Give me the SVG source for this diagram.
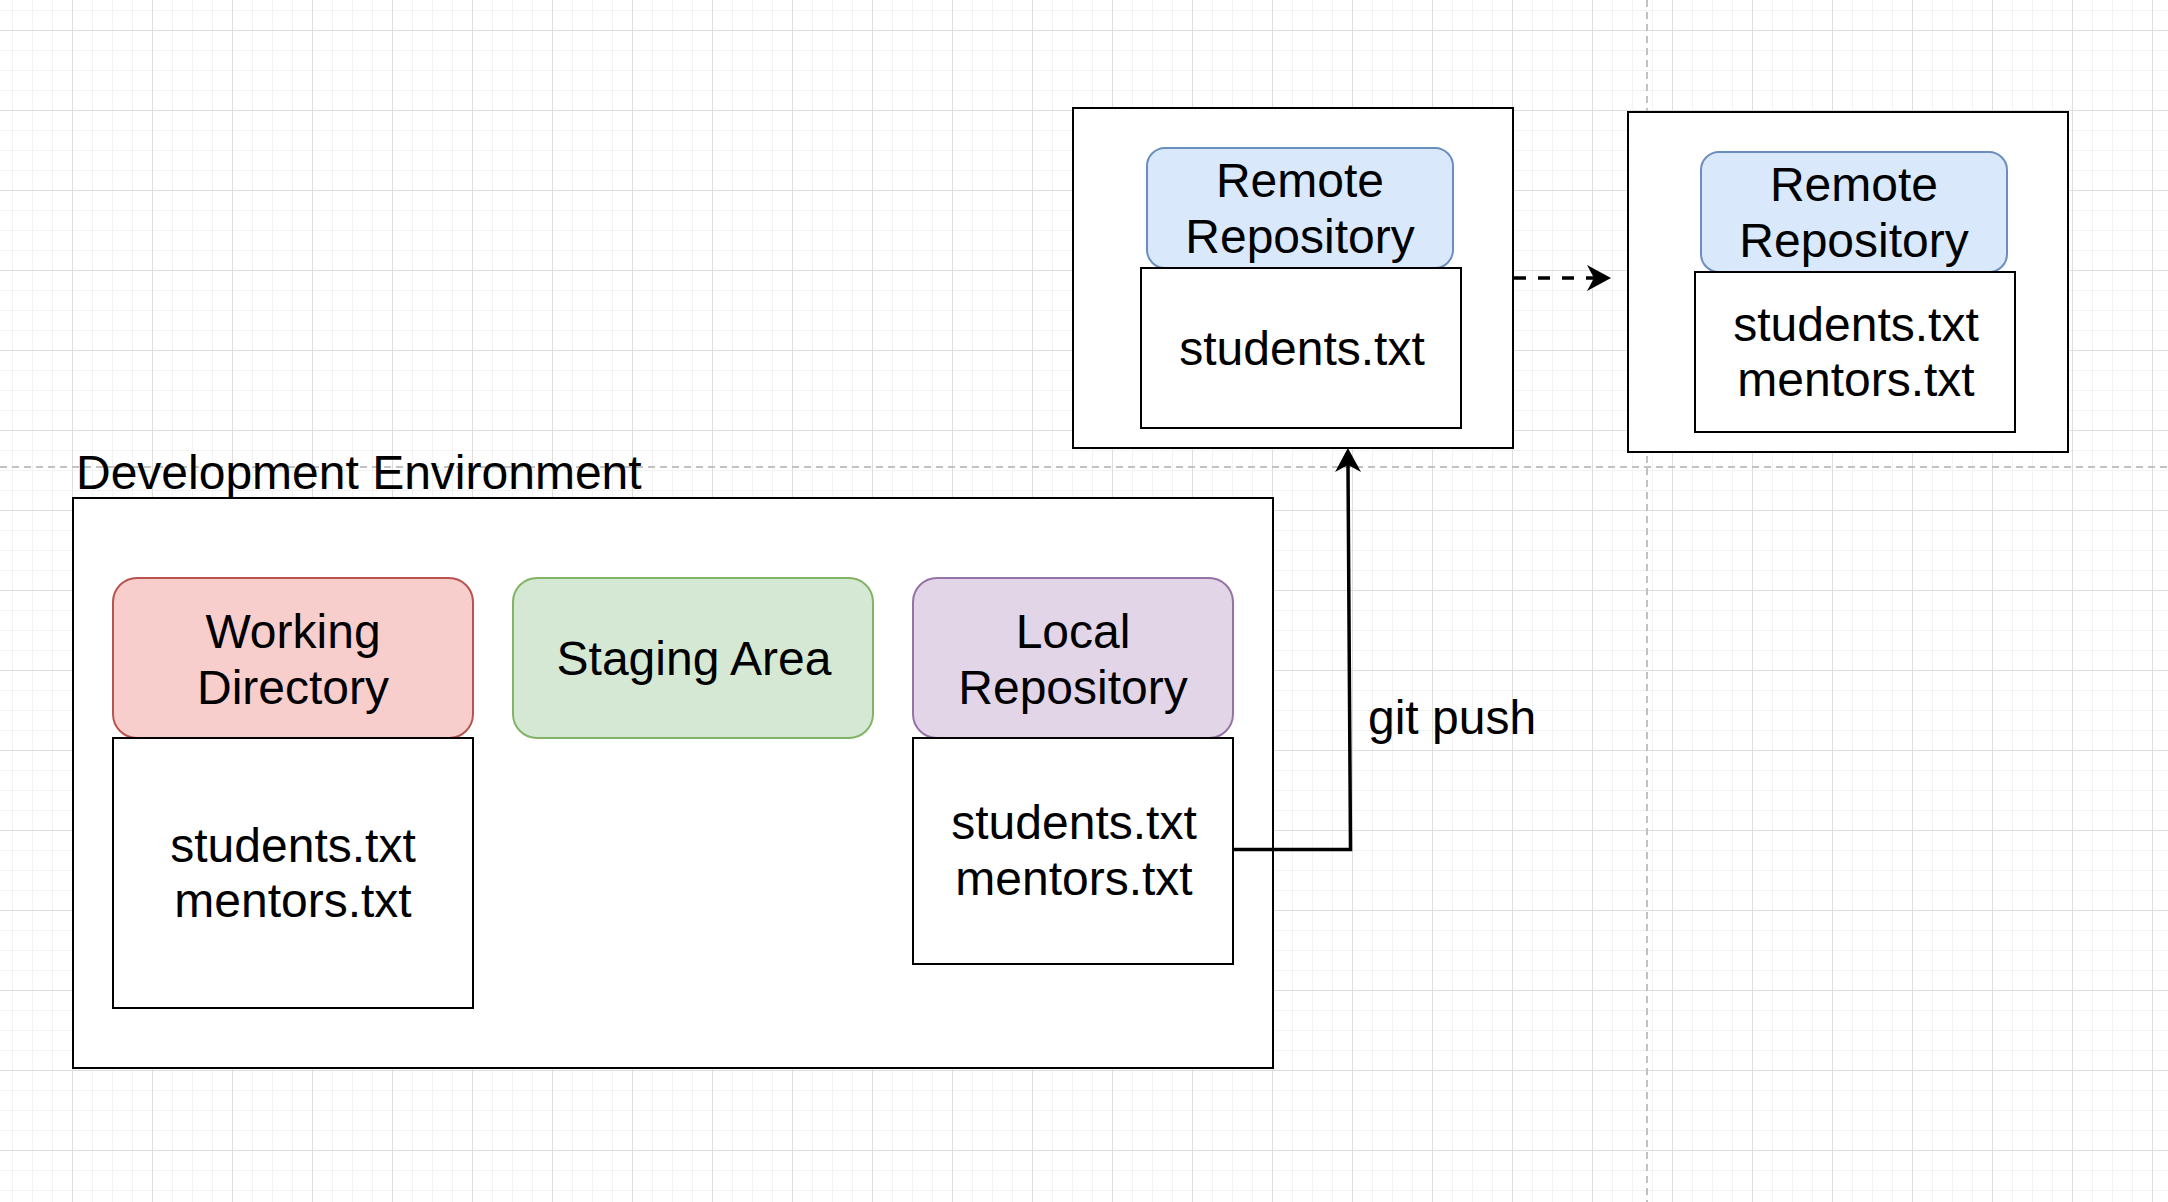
<svg xmlns="http://www.w3.org/2000/svg" width="2168" height="1202" viewBox="0 0 2168 1202">
  <style>
    text { font-family: "Liberation Sans", Arial, Helvetica, sans-serif; font-size: 48px; fill: #000; }
    .c { text-anchor: middle; }
    .box { fill: #fff; stroke: #000; stroke-width: 2; }
    .red { fill: #f8cecc; stroke: #b85450; stroke-width: 2; }
    .green { fill: #d5e8d4; stroke: #82b366; stroke-width: 2; }
    .purple { fill: #e1d5e7; stroke: #9673a6; stroke-width: 2; }
    .blue { fill: #dae8fc; stroke: #6c8ebf; stroke-width: 2; }
    .guide { stroke: #c2c2c2; stroke-width: 2; stroke-dasharray: 7 5; fill: none; }
    .edge { fill: none; stroke: #000; stroke-width: 3.5; }
    .dashed { stroke-dasharray: 12 12; }
  </style>
  <defs>
    <pattern id="grid" x="72" y="30" width="80" height="80" patternUnits="userSpaceOnUse">
      <rect width="80" height="80" fill="#ffffff"/>
      <g fill="#f3f3f3">
        <rect x="20" y="0" width="1" height="80"/>
        <rect x="40" y="0" width="1" height="80"/>
        <rect x="60" y="0" width="1" height="80"/>
        <rect x="0" y="20" width="80" height="1"/>
        <rect x="0" y="40" width="80" height="1"/>
        <rect x="0" y="60" width="80" height="1"/>
      </g>
      <g fill="#dedede">
        <rect x="0" y="0" width="1" height="80"/>
        <rect x="0" y="0" width="80" height="1"/>
      </g>
    </pattern>
    <marker id="arrow" markerUnits="userSpaceOnUse" viewBox="-8 -14 26 28" markerWidth="26" markerHeight="28" refX="0" refY="0" orient="auto">
      <path d="M17,0 L-7,-13 L0,0 L-7,13 Z" fill="#000"/>
    </marker>
  </defs>

  <rect x="0" y="0" width="2168" height="1202" fill="url(#grid)"/>

  <g id="guides">
    <line class="guide" x1="0" y1="467" x2="2168" y2="467"/>
    <line class="guide" x1="1647" y1="0" x2="1647" y2="1202"/>
  </g>

  <g id="dev-environment">
    <rect class="box" x="73" y="498" width="1200" height="570"/>
    <text x="76" y="489">Development Environment</text>
  </g>

  <g id="working-directory">
    <rect class="red" x="113" y="578" width="360" height="160" rx="24" ry="24"/>
    <text class="c" x="293" y="648">Working</text>
    <text class="c" x="293" y="703.5">Directory</text>
    <rect class="box" x="113" y="738" width="360" height="270"/>
    <text class="c" x="293" y="862">students.txt</text>
    <text class="c" x="293" y="917">mentors.txt</text>
  </g>

  <g id="staging-area">
    <rect class="green" x="513" y="578" width="360" height="160" rx="24" ry="24"/>
    <text class="c" x="694" y="674.5">Staging Area</text>
  </g>

  <g id="local-repository">
    <rect class="purple" x="913" y="578" width="320" height="160" rx="24" ry="24"/>
    <text class="c" x="1073" y="647.5">Local</text>
    <text class="c" x="1073" y="703.5">Repository</text>
    <rect class="box" x="913" y="738" width="320" height="226"/>
    <text class="c" x="1074" y="839">students.txt</text>
    <text class="c" x="1074" y="894.5">mentors.txt</text>
  </g>

  <g id="remote-repository-1">
    <rect class="box" x="1073" y="108" width="440" height="340"/>
    <rect class="blue" x="1147" y="148" width="306" height="120" rx="18" ry="18"/>
    <text class="c" x="1300" y="197">Remote</text>
    <text class="c" x="1300" y="253">Repository</text>
    <rect class="box" x="1141" y="268" width="320" height="160"/>
    <text class="c" x="1302" y="365">students.txt</text>
  </g>

  <g id="remote-repository-2">
    <rect class="box" x="1628" y="112" width="440" height="340"/>
    <rect class="blue" x="1701" y="152" width="306" height="120" rx="18" ry="18"/>
    <text class="c" x="1854" y="201">Remote</text>
    <text class="c" x="1854" y="256.5">Repository</text>
    <rect class="box" x="1695" y="272" width="320" height="160"/>
    <text class="c" x="1856" y="341">students.txt</text>
    <text class="c" x="1856" y="396">mentors.txt</text>
  </g>

  <g id="connectors">
    <path class="edge" d="M1233,849.5 L1350.5,849.5 L1348,465" marker-end="url(#arrow)"/>
    <text x="1368" y="734">git push</text>
    <path class="edge dashed" d="M1514,278 L1594,278" marker-end="url(#arrow)"/>
  </g>
</svg>
